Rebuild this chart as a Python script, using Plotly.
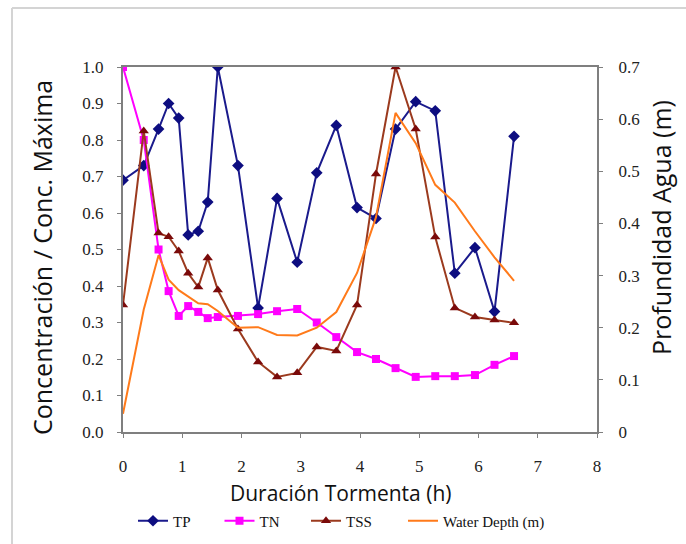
import plotly.graph_objects as go

hours = [0, 0.35, 0.6, 0.77, 0.94, 1.1, 1.27, 1.43, 1.6, 1.94, 2.28, 2.6, 2.94, 3.27,
         3.6, 3.95, 4.27, 4.6, 4.94, 5.27, 5.6, 5.94, 6.27, 6.6]
tp = [0.69, 0.73, 0.83, 0.90, 0.86, 0.54, 0.55, 0.63, 1.0, 0.73, 0.34, 0.64, 0.465, 0.71,
      0.84, 0.615, 0.585, 0.83, 0.905, 0.88, 0.435, 0.505, 0.33, 0.81]
tn = [1.0, 0.80, 0.50, 0.386, 0.318, 0.345, 0.329, 0.312, 0.315, 0.318, 0.323, 0.331, 0.337, 0.30,
      0.26, 0.219, 0.20, 0.175, 0.151, 0.153, 0.153, 0.156, 0.184, 0.208]
tss = [0.348, 0.825, 0.545, 0.535, 0.496, 0.435, 0.397, 0.477, 0.389, 0.282, 0.192, 0.151, 0.162, 0.233,
       0.222, 0.348, 0.707, 1.0, 0.83, 0.534, 0.34, 0.315, 0.307, 0.299]
depth = [0.035, 0.235, 0.339, 0.292, 0.272, 0.26, 0.247, 0.245, 0.232, 0.2, 0.201, 0.186, 0.185, 0.2,
         0.23, 0.305, 0.412, 0.612, 0.554, 0.474, 0.44, 0.385, 0.335, 0.29]

left_ticks = [0.0, 0.1, 0.2, 0.3, 0.4, 0.5, 0.6, 0.7, 0.8, 0.9, 1.0]
right_ticks = [0, 0.1, 0.2, 0.3, 0.4, 0.5, 0.6, 0.7]
right_labels = ["0", "0.1", "0.2", "0.3", "0.4", "0.5", "0.6", "0.7"]
x_ticks = [0, 1, 2, 3, 4, 5, 6, 7, 8]

serif = "Liberation Serif, Times New Roman, serif"
sans = "Open Sans"
tick_font = dict(family=serif, size=17, color="#222222")

fig = go.Figure()
fig.add_trace(go.Scatter(x=hours, y=tp, name="TP", mode="lines+markers",
                         line=dict(color="#1a1a8c", width=2),
                         marker=dict(symbol="diamond", size=9, color="#0d0d80")))
fig.add_trace(go.Scatter(x=hours, y=tn, name="TN", mode="lines+markers",
                         line=dict(color="#ff00ff", width=2),
                         marker=dict(symbol="square", size=8, color="#ff00ff")))
fig.add_trace(go.Scatter(x=hours, y=tss, name="TSS", mode="lines+markers",
                         line=dict(color="#9b3a1e", width=2),
                         marker=dict(symbol="triangle-up", size=9, color="#7a0a0a")))
fig.add_trace(go.Scatter(x=hours, y=depth, name="Water Depth (m)", mode="lines",
                         line=dict(color="#ff7a1a", width=2), yaxis="y2", legend="legend2"))

leg_y = (432 - 521) / 365
fig.update_layout(
    width=686, height=544,
    margin=dict(l=123, r=89, t=67, b=112, autoexpand=False),
    paper_bgcolor="white", plot_bgcolor="white",
    showlegend=True,
    legend=dict(orientation="h", x=(133 - 123) / 474, y=leg_y,
                xanchor="left", yanchor="middle",
                font=dict(family=serif, size=15, color="#111"),
                entrywidth=41.5, entrywidthmode="pixels", tracegroupgap=0,
                bgcolor="rgba(0,0,0,0)"),
    legend2=dict(orientation="h", x=(403 - 123) / 474, y=leg_y,
                 xanchor="left", yanchor="middle",
                 font=dict(family=serif, size=15, color="#111"),
                 bgcolor="rgba(0,0,0,0)"),
    xaxis=dict(range=[0, 8], tickvals=x_ticks, showgrid=False, zeroline=False,
               showline=True, linecolor="#7f7f7f", linewidth=2, mirror=True,
               ticks="outside", ticklen=4, tickcolor="#7f7f7f",
               ticklabelstandoff=14, tickfont=tick_font),
    yaxis=dict(range=[0, 1.0], tickvals=left_ticks, tickformat=".1f", showgrid=False,
               zeroline=False, showline=True, linecolor="#7f7f7f", linewidth=2,
               ticks="outside", ticklen=4, tickcolor="#7f7f7f",
               ticklabelstandoff=10, tickfont=tick_font),
    yaxis2=dict(range=[0, 0.7], tickvals=right_ticks, ticktext=right_labels,
                overlaying="y", side="right", showgrid=False, zeroline=False,
                showline=True, linecolor="#7f7f7f", linewidth=2,
                ticks="outside", ticklen=4, tickcolor="#7f7f7f",
                ticklabelstandoff=12, tickfont=tick_font),
)

fig.add_annotation(text="Concentración / Conc. Máxima", xref="paper", yref="paper",
                   x=(42 - 123) / 474, y=(432 - 258) / 365, xanchor="center", yanchor="middle",
                   textangle=-90, showarrow=False,
                   font=dict(family=sans, size=25, color="#111"))
fig.add_annotation(text="Profundidad Agua (m)", xref="paper", yref="paper",
                   x=(661 - 123) / 474, y=(432 - 228) / 365, xanchor="center", yanchor="middle",
                   textangle=-90, showarrow=False,
                   font=dict(family=sans, size=25, color="#111"))
fig.add_annotation(text="Duración Tormenta (h)", xref="paper", yref="paper",
                   x=(340 - 123) / 474, y=(432 - 493) / 365, xanchor="center", yanchor="middle",
                   showarrow=False,
                   font=dict(family=sans, size=21, color="#111"))

# outer frame (left and top edges)
fx0 = (12 - 123) / 474
fy0 = (432 - 8) / 365
fig.add_shape(type="line", xref="paper", yref="paper", x0=fx0, x1=fx0, y0=fy0,
              y1=(432 - 560) / 365, line=dict(color="#d4d4d4", width=2))
fig.add_shape(type="line", xref="paper", yref="paper", x0=fx0, x1=(700 - 123) / 474,
              y0=fy0, y1=fy0, line=dict(color="#d4d4d4", width=2))

fig.write_html("out.html")
